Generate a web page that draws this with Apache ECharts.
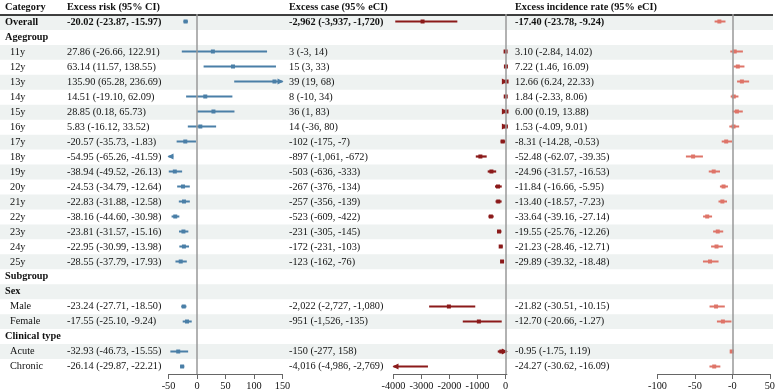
<!DOCTYPE html>
<html>
<head>
<meta charset="utf-8">
<script src="https://cdn.jsdelivr.net/npm/echarts@6/dist/echarts.min.js"></script>
<style>
  html, body { margin: 0; padding: 0; background: #fff; }
  #chart { width: 778px; height: 391px; }
</style>
</head>
<body>
<div id="chart"></div>
<script>
// rows, top to bottom
const categories = ['Overall', 'Agegroup', '11y', '12y', '13y', '14y', '15y', '16y', '17y', '18y', '19y',
  '20y', '21y', '22y', '23y', '24y', '25y', 'Subgroup', 'Sex', 'Male', 'Female', 'Clinical type', 'Acute', 'Chronic'];
const groupRows = ['Agegroup', 'Subgroup', 'Sex', 'Clinical type'];

// Excess risk (95% CI)
const riskEst = [-20.02, null, 27.86, 63.14, 135.90, 14.51, 28.85, 5.83, -20.57, -54.95, -38.94,
  -24.53, -22.83, -38.16, -23.81, -22.95, -28.55, null, null, -23.24, -17.55, null, -32.93, -26.14];
const riskLo = [-23.87, null, -26.66, 11.57, 65.28, -19.10, 0.18, -16.12, -35.73, -65.26, -49.52,
  -34.79, -31.88, -44.60, -31.57, -30.99, -37.79, null, null, -27.71, -25.10, null, -46.73, -29.87];
const riskHi = [-15.97, null, 122.91, 138.55, 236.69, 62.09, 65.73, 33.52, -1.83, -41.59, -26.13,
  -12.64, -12.58, -30.98, -15.16, -13.98, -17.93, null, null, -18.50, -9.24, null, -15.55, -22.21];

// Excess case (95% eCI)
const caseEst = [-2962, null, 3, 15, 39, 8, 36, 14, -102, -897, -503,
  -267, -257, -523, -231, -172, -123, null, null, -2022, -951, null, -150, -4016];
const caseLo = [-3937, null, -3, 3, 19, -10, 1, -36, -175, -1061, -636,
  -376, -356, -609, -305, -231, -162, null, null, -2727, -1526, null, -277, -4986];
const caseHi = [-1720, null, 14, 33, 68, 34, 83, 80, -7, -672, -333,
  -134, -139, -422, -145, -103, -76, null, null, -1080, -135, null, 158, -2769];

// Excess incidence rate (95% eCI)
const irEst = [-17.40, null, 3.10, 7.22, 12.66, 1.84, 6.00, 1.53, -8.31, -52.48, -24.96,
  -11.84, -13.40, -33.64, -19.55, -21.23, -29.89, null, null, -21.82, -12.70, null, -0.95, -24.27];
const irLo = [-23.78, null, -2.84, 1.46, 6.24, -2.33, 0.19, -4.09, -14.28, -62.07, -31.57,
  -16.66, -18.57, -39.16, -25.76, -28.46, -39.32, null, null, -30.51, -20.66, null, -1.75, -30.62];
const irHi = [-9.24, null, 14.02, 16.09, 22.33, 8.06, 13.88, 9.01, -0.53, -39.35, -16.53,
  -5.95, -7.23, -27.14, -12.26, -12.71, -18.48, null, null, -10.15, -1.27, null, 1.19, -16.09];

const headers = ['Category', 'Excess risk (95% CI)', 'Excess case (95% eCI)', 'Excess incidence rate (95% eCI)'];
const riskTicks = [-50, 0, 50, 100, 150];
const caseTicks = [-4000, -3000, -2000, -1000, 0];
const irTicks = [-100, -50, 0, 50];
const irTickLabels = ['-100', '-50', '-0', '50'];

const FONT = '"Liberation Serif", "Times New Roman", serif';
const FS = 10.3;
const colX = [5, 67, 289, 515];

const fmt2 = v => v.toFixed(2);
const fmtInt = v => v.toLocaleString('en-US');
const ciText = (e, l, h, f) => e == null ? '' : f(e) + ' (' + f(l) + ', ' + f(h) + ')';

const panels = [
  { est: riskEst, lo: riskLo, hi: riskHi, min: -50, max: 150, ticks: riskTicks,
    labels: riskTicks.map(String), color: '#4a7fa7', left: 168.5, width: 114, lw: 2 },
  { est: caseEst, lo: caseLo, hi: caseHi, min: -4000, max: 50, ticks: caseTicks,
    labels: caseTicks.map(String), color: '#8b1a1a', left: 393.5, width: 113.4, lw: 2.2 },
  { est: irEst, lo: irLo, hi: irHi, min: -100, max: 50, ticks: irTicks,
    labels: irTickLabels, color: '#de7468', left: 657.5, width: 114.5, lw: 2 }
];

function forestItem(p) {
  return function (params, api) {
    const row = api.value(0), est = api.value(1), lo = api.value(2), hi = api.value(3);
    const a = api.coord([Math.max(lo, p.min), row]);
    const b = api.coord([Math.min(hi, p.max), row]);
    const y = a[1];
    const kids = [{ type: 'line', shape: { x1: a[0], y1: y, x2: b[0], y2: y },
      style: { stroke: p.color, lineWidth: p.lw } }];
    if (lo < p.min) {
      kids.push({ type: 'polygon', shape: { points: [[a[0] - 1, y], [a[0] + 5, y - 3], [a[0] + 5, y + 3]] },
        style: { fill: p.color } });
    }
    if (hi > p.max) {
      kids.push({ type: 'polygon', shape: { points: [[b[0] + 1, y], [b[0] - 5, y - 3], [b[0] - 5, y + 3]] },
        style: { fill: p.color } });
    }
    if (est >= p.min && est <= p.max) {
      const c = api.coord([est, row]);
      kids.push({ type: 'rect', shape: { x: c[0] - 2, y: y - 2, width: 4, height: 4 },
        style: { fill: p.color } });
    }
    return { type: 'group', children: kids };
  };
}

function textEl(x, y, text, bold) {
  return { type: 'text', x: x, y: y,
    style: { text: text, fill: '#111', fontSize: FS, fontFamily: FONT,
      fontWeight: bold ? 'bold' : 'normal', align: 'left', verticalAlign: 'middle' } };
}

function tableItem(params, api) {
  const r = api.value(1);
  const c = api.coord([0, r]);
  const h = api.size([0, 1])[1];
  const y = c[1];
  const kids = [];
  if (r === 0) {
    headers.forEach((t, k) => kids.push(textEl(colX[k], y - 0.5, t, true)));
    kids.push({ type: 'line', shape: { x1: 0, y1: y + h / 2, x2: 773, y2: y + h / 2 },
      style: { stroke: '#000', lineWidth: 1.5 }, z2: 10 });
    return { type: 'group', children: kids };
  }
  const i = r - 1;
  if (i % 2 === 0) {
    kids.push({ type: 'rect', shape: { x: 0, y: y - h / 2, width: 773, height: h },
      style: { fill: '#eef2f1' } });
  }
  const cat = categories[i];
  const isGroup = groupRows.indexOf(cat) >= 0;
  const bold = isGroup || i === 0;
  kids.push(textEl(bold ? colX[0] : colX[0] + 5, y, cat, bold));
  if (riskEst[i] != null) {
    kids.push(textEl(colX[1], y, ciText(riskEst[i], riskLo[i], riskHi[i], fmt2), i === 0));
    kids.push(textEl(colX[2], y, ciText(caseEst[i], caseLo[i], caseHi[i], fmtInt), i === 0));
    kids.push(textEl(colX[3], y, ciText(irEst[i], irLo[i], irHi[i], fmt2), i === 0));
  }
  return { type: 'group', children: kids };
}

const tableCats = [''].concat(categories);

const grid = [{ left: 0, width: 778, top: -1, height: 375 }];
const xAxis = [{ gridIndex: 0, type: 'value', min: 0, max: 778, show: false }];
const yAxis = [{ gridIndex: 0, type: 'category', data: tableCats, inverse: true, show: false }];
const series = [{
  type: 'custom', xAxisIndex: 0, yAxisIndex: 0, z: 1, silent: true,
  data: tableCats.map((_, r) => [0, r]), encode: { x: 0, y: 1 },
  renderItem: tableItem
}];

panels.forEach((p, k) => {
  const gi = k + 1;
  grid.push({ left: p.left, width: p.width, top: 14, height: 360 });
  xAxis.push({
    gridIndex: gi, type: 'value', min: p.min, max: p.max, position: 'bottom',
    splitLine: { show: false },
    axisLine: { show: true, lineStyle: { color: '#666', width: 1 } },
    axisTick: { show: true, length: 5, customValues: p.ticks, lineStyle: { color: '#666' } },
    axisLabel: { customValues: p.ticks, margin: 7, color: '#111', fontSize: FS, fontFamily: FONT,
      formatter: v => p.labels[p.ticks.indexOf(v)] }
  });
  yAxis.push({ gridIndex: gi, type: 'category', data: categories, inverse: true, show: false });
  const data = [];
  categories.forEach((_, i) => {
    if (p.est[i] != null) data.push([i, p.est[i], p.lo[i], p.hi[i]]);
  });
  series.push({
    type: 'custom', xAxisIndex: gi, yAxisIndex: gi, z: 3, silent: true,
    data: data, encode: { y: 0, x: [1, 2, 3] },
    renderItem: forestItem(p),
    markLine: {
      silent: true, symbol: ['none', 'none'], label: { show: false },
      lineStyle: { color: '#999', width: 1.5, type: 'solid' },
      data: [{ xAxis: 0 }]
    }
  });
});

const chart = echarts.init(document.getElementById('chart'));
chart.setOption({ animation: false, grid: grid, xAxis: xAxis, yAxis: yAxis, series: series });
</script>
</body>
</html>
